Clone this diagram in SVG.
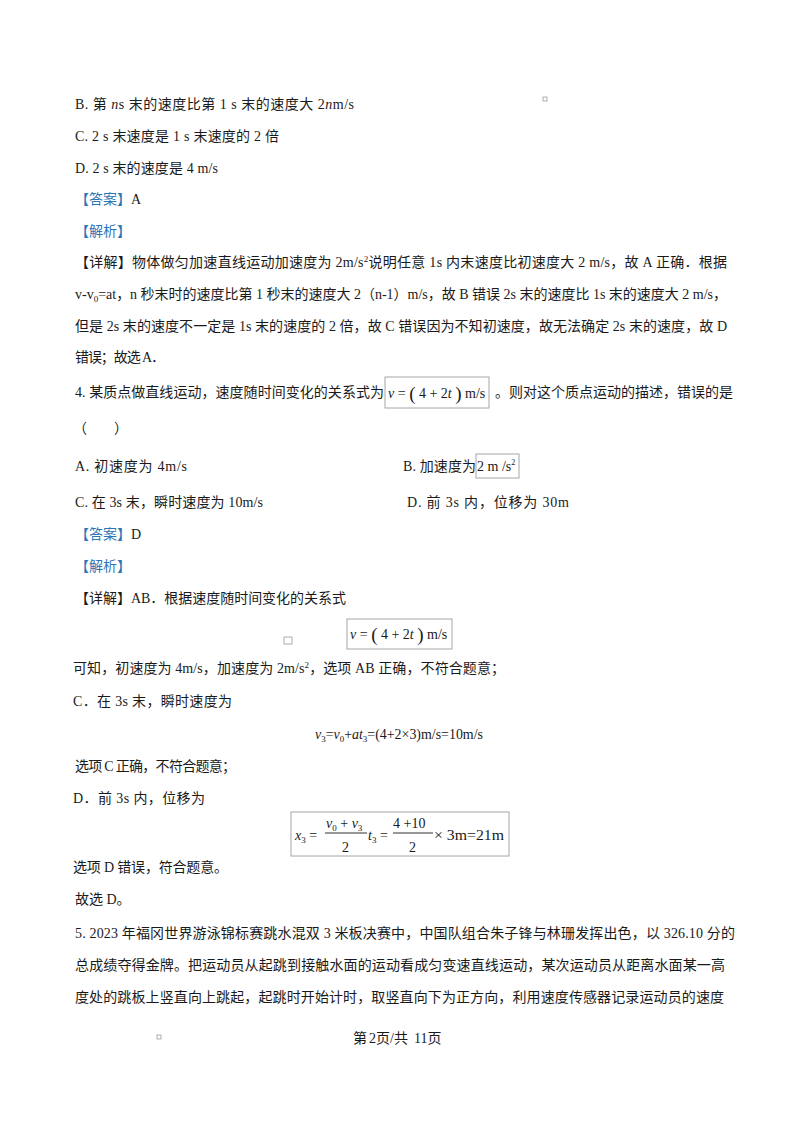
<svg xmlns="http://www.w3.org/2000/svg" width="800" height="1132" viewBox="0 0 800 1132">
<style>
text{font-family:"Liberation Serif","Noto Sans CJK SC",serif;font-size:14px;fill:#1a1a1a}
.b{fill:#2e75b6}
.m{font-family:"Liberation Serif",serif}
.i{font-style:italic}
.box{fill:#fff;stroke:#a6a6a6;stroke-width:1}
.mk{fill:none;stroke:#9a9a9a;stroke-width:0.8}
</style>
<rect width="800" height="1132" fill="#fff"/>

<g id="q3-options">
<text x="75" y="109" textLength="279" lengthAdjust="spacing">B.  第  <tspan class="i">n</tspan>s 末的速度比第  1 s 末的速度大  2<tspan class="i">n</tspan>m/s</text>
<rect class="mk" x="543" y="97" width="4" height="4"/>
<text x="75" y="141" textLength="204" lengthAdjust="spacing">C. 2 s 末速度是  1 s 末速度的  2 倍</text>
<text x="75" y="173" textLength="143" lengthAdjust="spacing">D. 2 s 末的速度是  4 m/s</text>
</g>

<g id="q3-answer">
<text x="75" y="204"><tspan class="b">【答案】</tspan>A</text>
<text x="75" y="236" class="b">【解析】</text>
<text x="75" y="267" textLength="652" lengthAdjust="spacing">【详解】物体做匀加速直线运动加速度为  2m/s<tspan font-size="9" dy="-5">2</tspan><tspan dy="5">说明任意  1s 内末速度比初速度大  2 m/s，故  A 正确．根据</tspan></text>
<text x="75" y="299" textLength="652" lengthAdjust="spacing">v-v<tspan font-size="9" dy="3">0</tspan><tspan dy="-3">=at，n 秒末时的速度比第  1 秒末的速度大  2（n-1）m/s，故  B 错误  2s 末的速度比  1s 末的速度大  2 m/s，</tspan></text>
<text x="75" y="331" textLength="652" lengthAdjust="spacing">但是  2s 末的速度不一定是  1s 末的速度的  2 倍，故  C 错误因为不知初速度，故无法确定  2s 末的速度，故  D</text>
<text x="75" y="362" textLength="90" lengthAdjust="spacing">错误；故选  A．</text>
</g>

<g id="q4-stem">
<text x="75" y="397" textLength="309" lengthAdjust="spacing">4. 某质点做直线运动，速度随时间变化的关系式为</text>
<rect class="box" x="385" y="377" width="104" height="31"/>
<text class="m" x="388" y="398" font-size="15"><tspan class="i">v</tspan> = <tspan font-size="19" dy="2">(</tspan><tspan dy="-2"> 4 + 2</tspan><tspan class="i">t</tspan> <tspan font-size="19" dy="2">)</tspan><tspan dy="-2"> m/s</tspan></text>
<text x="495" y="397" textLength="238" lengthAdjust="spacing">。则对这个质点运动的描述，错误的是</text>
<text x="73" y="433">（</text>
<text x="114" y="433">）</text>
</g>

<g id="q4-options">
<text x="75" y="471" textLength="112" lengthAdjust="spacing">A.  初速度为  4m/s</text>
<text x="403" y="471" textLength="73" lengthAdjust="spacing">B.  加速度为</text>
<rect class="box" x="476" y="454" width="43" height="24"/>
<text class="m" x="477" y="471" font-size="12">2 m /s<tspan font-size="8" dy="-6">2</tspan></text>
<text x="75" y="507" textLength="188" lengthAdjust="spacing">C.  在  3s 末，瞬时速度为  10m/s</text>
<text x="407" y="507" textLength="162" lengthAdjust="spacing">D.  前  3s 内，位移为  30m</text>
</g>

<g id="q4-answer">
<text x="75" y="539"><tspan class="b">【答案】</tspan>D</text>
<text x="75" y="571" class="b">【解析】</text>
<text x="75" y="603" textLength="271" lengthAdjust="spacing">【详解】AB．根据速度随时间变化的关系式</text>
<rect class="mk" x="284" y="637" width="8" height="7"/>
<rect class="box" x="347" y="619" width="105" height="30"/>
<text class="m" x="350" y="639" font-size="15"><tspan class="i">v</tspan> = <tspan font-size="19" dy="2">(</tspan><tspan dy="-2"> 4 + 2</tspan><tspan class="i">t</tspan> <tspan font-size="19" dy="2">)</tspan><tspan dy="-2"> m/s</tspan></text>
<text x="73" y="673" textLength="432" lengthAdjust="spacing">可知，初速度为  4m/s，加速度为  2m/s<tspan font-size="9" dy="-5">2</tspan><tspan dy="5">，选项  AB 正确，不符合题意；</tspan></text>
<text x="73" y="706" textLength="159" lengthAdjust="spacing">C．在  3s 末，瞬时速度为</text>
<text class="m" x="315" y="739" textLength="168" lengthAdjust="spacingAndGlyphs"><tspan class="i">v</tspan><tspan font-size="9" dy="3">3</tspan><tspan dy="-3">=</tspan><tspan class="i">v</tspan><tspan font-size="9" dy="3">0</tspan><tspan dy="-3">+</tspan><tspan class="i">at</tspan><tspan font-size="9" dy="3">3</tspan><tspan dy="-3">=(4+2×3)m/s=10m/s</tspan></text>
<text x="75" y="771" textLength="161" lengthAdjust="spacing">选项  C 正确，不符合题意；</text>
<text x="73" y="803" textLength="132" lengthAdjust="spacing">D．前  3s 内，位移为</text>
<rect class="box" x="291" y="812" width="218" height="44"/>
<g class="m" font-size="15">
<text class="m" x="295" y="840"><tspan class="i">x</tspan><tspan font-size="9" dy="3">3</tspan><tspan dy="-3"> =</tspan></text>
<text class="m" x="326" y="828"><tspan class="i">v</tspan><tspan font-size="9" dy="3">0</tspan><tspan dy="-3"> + </tspan><tspan class="i">v</tspan><tspan font-size="9" dy="3">3</tspan></text>
<line x1="325" y1="833" x2="367" y2="833" stroke="#1a1a1a" stroke-width="0.9"/>
<text class="m" x="342" y="852">2</text>
<text class="m" x="368" y="840"><tspan class="i">t</tspan><tspan font-size="9" dy="3">3</tspan><tspan dy="-3"> =</tspan></text>
<text class="m" x="393" y="828">4 +10</text>
<line x1="393" y1="833" x2="433" y2="833" stroke="#1a1a1a" stroke-width="0.9"/>
<text class="m" x="409" y="852">2</text>
<text class="m" x="434" y="840" textLength="70" lengthAdjust="spacingAndGlyphs">× 3m=21m</text>
</g>
<text x="73" y="872" textLength="155" lengthAdjust="spacing">选项  D 错误，符合题意。</text>
<text x="75" y="904">故选  D。</text>
</g>

<g id="q5-stem">
<text x="75" y="938" textLength="660" lengthAdjust="spacing">5. 2023 年福冈世界游泳锦标赛跳水混双  3 米板决赛中，中国队组合朱子锋与林珊发挥出色，以  326.10 分的</text>
<text x="75" y="970" textLength="650" lengthAdjust="spacing">总成绩夺得金牌。把运动员从起跳到接触水面的运动看成匀变速直线运动，某次运动员从距离水面某一高</text>
<text x="75" y="1002" textLength="649" lengthAdjust="spacing">度处的跳板上竖直向上跳起，起跳时开始计时，取竖直向下为正方向，利用速度传感器记录运动员的速度</text>
</g>

<g id="footer">
<rect class="mk" x="157" y="1035" width="4" height="4"/>
<text y="1043" font-size="12.5"><tspan x="353">第</tspan><tspan x="369">2页/共</tspan><tspan x="414">11页</tspan></text>
</g>
</svg>
